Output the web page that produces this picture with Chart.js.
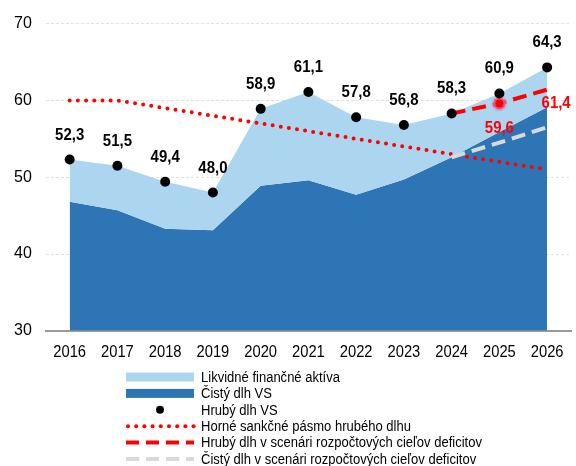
<!DOCTYPE html>
<html lang="sk">
<head>
  <meta charset="UTF-8">
  <title>Dlh verejnej správy</title>
  <style>
    body { margin: 0; padding: 0; background: #ffffff; }
    #wrap { width: 576px; height: 466px; }
  </style>
</head>
<body>
  <div id="wrap"><canvas id="debtChart" width="576" height="466"></canvas></div>

  <script src="https://cdn.jsdelivr.net/npm/chart.js@4/dist/chart.umd.min.js"></script>
  <script>
    // data
    const years = ['2016', '2017', '2018', '2019', '2020', '2021', '2022', '2023', '2024', '2025', '2026'];
    const grossDebt = [52.3, 51.5, 49.4, 48.0, 58.9, 61.1, 57.8, 56.8, 58.3, 60.9, 64.3];
    const netDebt = [46.8, 45.7, 43.3, 43.1, 48.9, 49.6, 47.7, 49.7, 52.6, 55.9, 59.1];
    const sanctionBand = [60, 60, 59, 58, 57, 56, 55, 54, 53, 52, 51];
    const grossScenario = [null, null, null, null, null, null, null, null, 58.3, 59.6, 61.4];
    const netScenario = [null, null, null, null, null, null, null, null, 52.6, 54.5, 56.5];
    const yTicks = [30, 40, 50, 60, 70];

    const lightBlue = 'rgb(172, 213, 239)';
    const darkBlue = 'rgb(46, 117, 182)';
    const sans = "'Liberation Sans', Arial, sans-serif";

    const fmt = v => v.toFixed(1).replace('.', ',');

    // the reference uses a slightly condensed face, so squeeze the text a bit
    function narrowText(ctx, text, x, y, sx) {
      ctx.save();
      ctx.translate(x, y);
      ctx.scale(sx, 1);
      ctx.fillText(text, 0, 0);
      ctx.restore();
    }

    // year labels under the axis
    const yearLabels = {
      id: 'yearLabels',
      afterDraw(chart) {
        const ctx = chart.ctx;
        const xs = chart.scales.x;
        ctx.save();
        ctx.font = '16px ' + sans;
        ctx.fillStyle = '#000';
        ctx.textAlign = 'center';
        ctx.textBaseline = 'middle';
        years.forEach((yr, i) => narrowText(ctx, yr, xs.getPixelForValue(i), 353, 0.92));
        ctx.restore();
      }
    };

    // labels above the black dots and the two red scenario labels
    const valueLabels = {
      id: 'valueLabels',
      afterDatasetsDraw(chart) {
        const ctx = chart.ctx;
        ctx.save();
        ctx.textAlign = 'center';
        ctx.textBaseline = 'alphabetic';
        ctx.font = 'bold 17px ' + sans;
        ctx.fillStyle = '#000';
        chart.getDatasetMeta(0).data.forEach((pt, i) => {
          narrowText(ctx, fmt(grossDebt[i]), pt.x, pt.y - 20, 0.88);
        });
        ctx.fillStyle = '#ff0000';
        const red = chart.getDatasetMeta(1).data;
        narrowText(ctx, fmt(grossScenario[9]), red[9].x, red[9].y + 30, 0.88);
        narrowText(ctx, fmt(grossScenario[10]), red[10].x + 9, red[10].y + 18, 0.88);
        ctx.restore();
      }
    };

    // vertical legend drawn below the axis
    const sideLegend = {
      id: 'sideLegend',
      afterDraw(chart) {
        const ctx = chart.ctx;
        const x0 = 126, x1 = 194, tx = 201;
        const items = [
          { text: 'Likvidné finančné aktíva', kind: 'box', color: lightBlue },
          { text: 'Čistý dlh VS', kind: 'box', color: darkBlue },
          { text: 'Hrubý dlh VS', kind: 'dot', color: '#000' },
          { text: 'Horné sankčné pásmo hrubého dlhu', kind: 'dotted', color: '#ff0000' },
          { text: 'Hrubý dlh v scenári rozpočtových cieľov deficitov', kind: 'dash', color: '#ff0000' },
          { text: 'Čistý dlh v scenári rozpočtových cieľov deficitov', kind: 'dash', color: '#d9d9d9' }
        ];
        ctx.save();
        ctx.font = '14px ' + sans;
        ctx.textBaseline = 'middle';
        ctx.textAlign = 'left';
        items.forEach((it, i) => {
          const y = 377 + i * 16.4;
          if (it.kind === 'box') {
            ctx.fillStyle = it.color;
            ctx.fillRect(x0, y - 4.5, x1 - x0, 9);
          } else if (it.kind === 'dot') {
            ctx.fillStyle = it.color;
            ctx.beginPath();
            ctx.arc((x0 + x1) / 2, y, 4, 0, Math.PI * 2);
            ctx.fill();
          } else if (it.kind === 'dotted') {
            ctx.fillStyle = it.color;
            for (let k = 0; k < 9; k++) {
              ctx.beginPath();
              ctx.arc(x0 + 2 + k * 8.2, y, 2, 0, Math.PI * 2);
              ctx.fill();
            }
          } else {
            ctx.strokeStyle = it.color;
            ctx.lineWidth = 4;
            ctx.setLineDash([13, 7]);
            ctx.beginPath();
            ctx.moveTo(x0, y);
            ctx.lineTo(x1, y);
            ctx.stroke();
            ctx.setLineDash([]);
          }
          ctx.fillStyle = '#000';
          narrowText(ctx, it.text, tx, y + 1, 0.93);
        });
        ctx.restore();
      }
    };

    new Chart(document.getElementById('debtChart'), {
      type: 'line',
      data: {
        labels: years,
        datasets: [
          {
            label: 'Hrubý dlh VS',
            data: grossDebt,
            showLine: false,
            pointRadius: 5,
            pointBackgroundColor: '#000',
            pointBorderWidth: 0,
            order: 0
          },
          {
            label: 'Hrubý dlh v scenári rozpočtových cieľov deficitov',
            data: grossScenario,
            borderColor: '#ff0000',
            borderWidth: 4,
            borderDash: [14, 7],
            pointRadius: [0, 0, 0, 0, 0, 0, 0, 0, 0, 6, 0],
            pointBackgroundColor: '#ff0000',
            pointBorderColor: 'rgba(210, 150, 210, 0.55)',
            pointBorderWidth: 4,
            fill: false,
            order: 1
          },
          {
            label: 'Čistý dlh v scenári rozpočtových cieľov deficitov',
            data: netScenario,
            borderColor: '#d9d9d9',
            borderWidth: 4,
            borderDash: [14, 7],
            pointRadius: 0,
            fill: false,
            order: 2
          },
          {
            label: 'Horné sankčné pásmo hrubého dlhu',
            data: sanctionBand,
            borderColor: '#ff0000',
            borderWidth: 4,
            borderDash: [0, 8.2],
            borderCapStyle: 'round',
            pointRadius: 0,
            fill: false,
            order: 3
          },
          {
            label: 'Likvidné finančné aktíva',
            data: grossDebt,
            borderWidth: 0,
            borderColor: lightBlue,
            backgroundColor: lightBlue,
            pointRadius: 0,
            fill: 5,
            order: 4
          },
          {
            label: 'Čistý dlh VS',
            data: netDebt,
            borderWidth: 0,
            borderColor: darkBlue,
            backgroundColor: darkBlue,
            pointRadius: 0,
            fill: 'start',
            order: 5
          }
        ]
      },
      options: {
        responsive: false,
        animation: false,
        layout: { padding: { top: 18, right: 1, bottom: 96, left: 0 } },
        plugins: {
          legend: { display: false },
          tooltip: { enabled: false }
        },
        scales: {
          x: {
            offset: true,
            grid: { display: false },
            border: { display: true, color: '#9a9a9a', width: 2 },
            ticks: { color: 'rgba(0,0,0,0)', font: { family: sans, size: 16 }, padding: 6, maxRotation: 0 }
          },
          y: {
            min: yTicks[0],
            max: yTicks[yTicks.length - 1],
            afterBuildTicks: axis => { axis.ticks = yTicks.map(v => ({ value: v })); },
            border: { display: false, dash: [3, 2] },
            grid: {
              color: ctx => ctx.tick && ctx.tick.value === 30 ? 'rgba(0,0,0,0)' : '#e0e0e0',
              drawTicks: false
            },
            ticks: { color: '#000', font: { family: sans, size: 16 }, padding: 14 }
          }
        }
      },
      plugins: [valueLabels, yearLabels, sideLegend]
    });
  </script>
</body>
</html>
